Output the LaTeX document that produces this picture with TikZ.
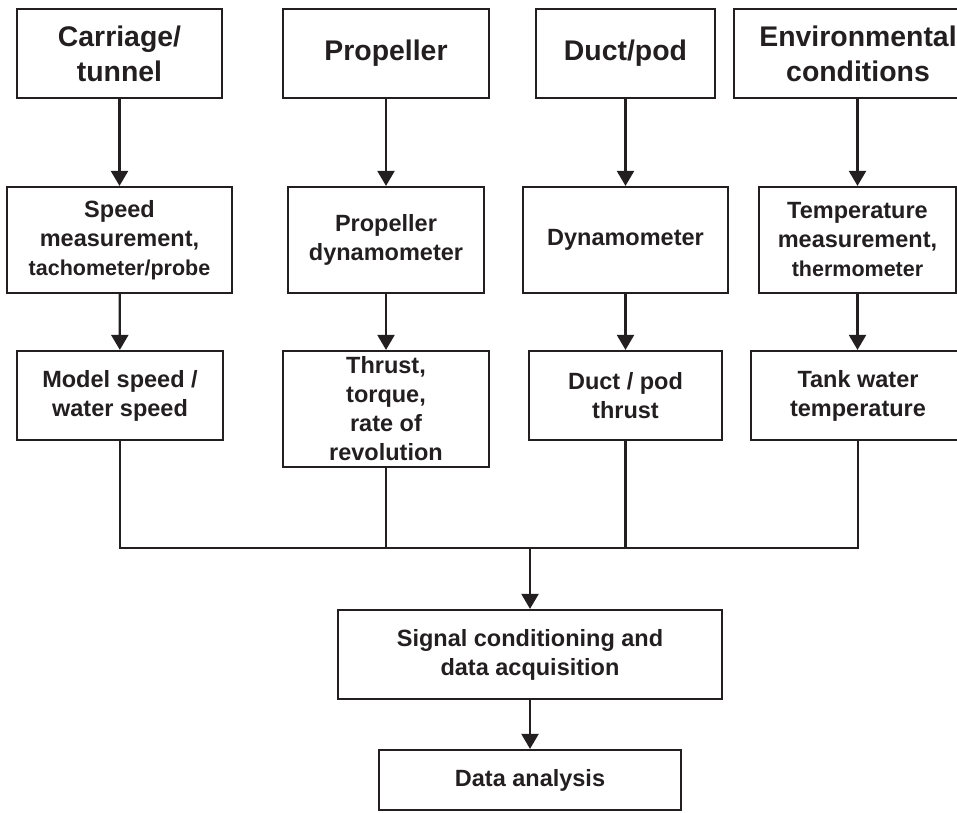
\documentclass[tikz,border=0pt]{standalone}
\usepackage{fontspec}
\setmainfont{Liberation Sans}
\usetikzlibrary{arrows.meta}
\definecolor{ccnoir}{RGB}{35,31,32}

\begin{document}
\begin{tikzpicture}[x=1pt,y=-1pt]

  % Styles des boites et des fleches
  \tikzstyle{boite} = [draw=ccnoir, text=ccnoir, line width=2.2pt, rectangle, inner sep=0pt, align=center, font=\bfseries\fontsize{23.5}{29}\selectfont]
  \tikzstyle{grande} = [font=\bfseries\fontsize{28.4}{35}\selectfont]
  \tikzstyle{fleche} = [-{Triangle[length=15pt,width=17pt]}, draw=ccnoir, line width=2.2pt]
  \tikzstyle{ligne} = [draw=ccnoir, line width=2.2pt]

  \useasboundingbox (0,0) rectangle (957,812);
  \clip (0,0) rectangle (957,812);

  % Sources
  \draw (119.5,53.5) node[boite, grande, minimum width=205pt, minimum height=89pt] (carriage) {Carriage/\\tunnel};
  \draw (386,53.5) node[boite, grande, minimum width=206pt, minimum height=89pt] (propeller) {Propeller};
  \draw (625.5,53.5) node[boite, grande, minimum width=179pt, minimum height=89pt] (duct) {Duct/pod};
  \draw (858,53.5) node[boite, grande, minimum width=248pt, minimum height=89pt] (environ) {Environmental\\conditions};

  % Mesures
  \draw (119.5,240) node[boite, minimum width=225pt, minimum height=106pt] (speedmeas) {Speed\\measurement,\\{\fontsize{21.5}{26}\selectfont tachometer/probe}};
  \draw (386,240) node[boite, minimum width=196pt, minimum height=106pt] (propdyn) {Propeller\\dynamometer};
  \draw (625.5,240) node[boite, minimum width=205pt, minimum height=106pt] (dyn) {Dynamometer};
  \draw (857.5,240) node[boite, minimum width=197pt, minimum height=106pt] (tempmeas) {Temperature\\measurement,\\{\fontsize{21.5}{26}\selectfont thermometer}};

  % Grandeurs
  \draw (120,395.5) node[boite, minimum width=206pt, minimum height=89pt] (modelspeed) {Model speed /\\water speed};
  \draw (386,409) node[boite, minimum width=206pt, minimum height=116pt] (thrust) {Thrust,\\torque,\\rate of\\revolution};
  \draw (625.5,395.5) node[boite, minimum width=193pt, minimum height=89pt] (ductthrust) {Duct / pod\\thrust};
  \draw (858,395.5) node[boite, minimum width=214pt, minimum height=89pt] (tankwater) {Tank water\\temperature};

  % Acquisition et analyse
  \draw (530,654.5) node[boite, minimum width=384pt, minimum height=89pt] (signal) {Signal conditioning and\\data acquisition};
  \draw (530,780) node[boite, minimum width=302pt, minimum height=60pt] (analysis) {Data analysis};

  \coordinate (bus) at (530,548);

  % Fleches verticales
  \draw[fleche] (carriage) -- (speedmeas);
  \draw[fleche] (propeller) -- (propdyn);
  \draw[fleche] (duct) -- (dyn);
  \draw[fleche] (environ.south -| tempmeas.north) -- (tempmeas);
  \draw[fleche] (speedmeas) -- (modelspeed);
  \draw[fleche] (propdyn) -- (thrust);
  \draw[fleche] (dyn) -- (ductthrust);
  \draw[fleche] (tempmeas.south) -- (tempmeas.south |- tankwater.north);

  % Collecteur
  \draw[ligne] (modelspeed.south) -- (modelspeed.south |- bus) -- (tankwater.south |- bus) -- (tankwater.south);
  \draw[ligne] (thrust.south) -- (thrust.south |- bus);
  \draw[ligne] (ductthrust.south) -- (ductthrust.south |- bus);
  \draw[fleche] (bus) -- (signal);
  \draw[fleche] (signal) -- (analysis);

\end{tikzpicture}
\end{document}
